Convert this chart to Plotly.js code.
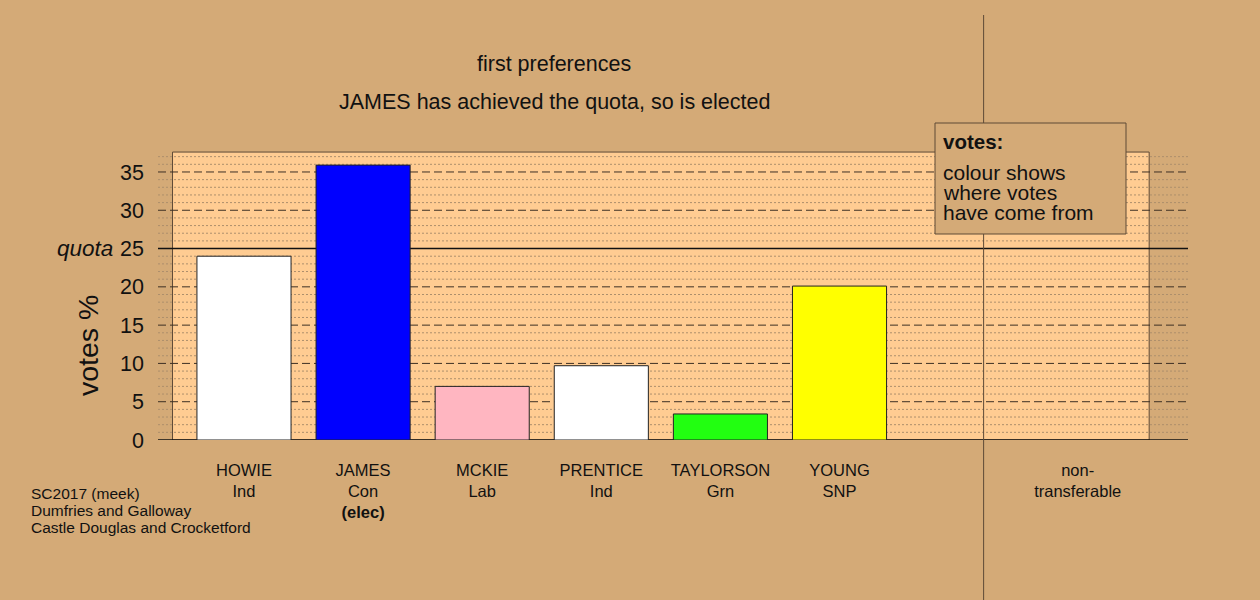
<!DOCTYPE html>
<html>
<head>
<meta charset="utf-8">
<script src="https://cdn.plot.ly/plotly-3.0.1.min.js"></script>
<style>
  html, body { margin: 0; padding: 0; background: #D4AA77; }
  #chart { width: 1260px; height: 600px; }
</style>
</head>
<body>
<div id="chart"></div>
<script>
// First-preference votes, STV count, Castle Douglas and Crocketford (SC2017)
const candidates = ['HOWIE', 'JAMES', 'MCKIE', 'PRENTICE', 'TAYLORSON', 'YOUNG'];
const parties = ['Ind', 'Con', 'Lab', 'Ind', 'Grn', 'SNP'];
const votesPct = [24.0, 35.9, 7.0, 9.7, 3.4, 20.1];
const barColours = ['#FFFFFF', '#0000FF', '#FFB6C1', '#FFFFFF', '#22FF11', '#FFFF00'];
const elected = [false, true, false, false, false, false];
const quota = 25;
const yTicks = [0, 5, 10, 15, 20, 25, 30, 35];
const nonTransferableLabel = 'non-<br>transferable';
const titleLines = ['first preferences', 'JAMES has achieved the quota, so is elected'];
const footnoteLines = ['SC2017 (meek)', 'Dumfries and Galloway', 'Castle Douglas and Crocketford'];
const keyTitle = 'votes:';
const keyLines = ['colour shows', 'where votes', 'have come from'];

const W = 1260, H = 600;
const M = { l: 158, r: 72, t: 148, b: 160 };
const plotW = W - M.l - M.r, plotH = H - M.t - M.b;
// pixel -> paper helpers for page furniture
const px = x => (x - M.l) / plotW;
const py = y => (H - M.b - y) / plotH;

const FONT = 'Liberation Sans, Arial, sans-serif';
const BG = '#D4AA77';
const PANEL = '#FFCC92';
const EDGE = '#5E4A36';

const xRange = [-0.722, 7.926];
const yRange = [0, 38.13];
const xPos = candidates.map((_, i) => i);
const ntPos = candidates.length + 1;     // non-transferable column
const dividerPos = candidates.length + 0.21;

const tickText = candidates.map((c, i) =>
  c + '<br>' + parties[i] + (elected[i] ? '<br><b>(elec)</b>' : ''));

const bars = {
  type: 'bar',
  x: xPos,
  y: votesPct,
  width: 0.79,
  marker: { color: barColours, line: { color: '#222222', width: 1 } },
  hoverinfo: 'x+y',
  showlegend: false
};

const shapes = [];
// background panel
shapes.push({
  type: 'rect', layer: 'below', xref: 'x', yref: 'y',
  x0: -0.6, x1: ntPos + 0.6, y0: 0, y1: 37.6,
  fillcolor: PANEL, line: { color: EDGE, width: 1 }
});
// grid: dotted every unit, dashed every 5
for (let v = 1; v <= 37; v++) {
  if (v === quota) continue;
  const major = v % 5 === 0;
  shapes.push({
    type: 'line', layer: 'below', xref: 'x', yref: 'y',
    x0: xRange[0], x1: xRange[1], y0: v, y1: v,
    line: major ? { color: '#3E3024', width: 1, dash: '8px,4px' }
                : { color: '#AD8F6C', width: 1, dash: '2px,2px' }
  });
}
// quota line and baseline
shapes.push({
  type: 'line', layer: 'below', xref: 'x', yref: 'y',
  x0: xRange[0], x1: xRange[1], y0: quota, y1: quota, line: { color: '#111111', width: 1.5 }
});
shapes.push({
  type: 'line', layer: 'below', xref: 'x', yref: 'y',
  x0: xRange[0], x1: xRange[1], y0: 0, y1: 0, line: { color: '#111111', width: 1.5 }
});
// divider between candidates and non-transferable column
shapes.push({
  type: 'line', layer: 'above', xref: 'x', yref: 'paper',
  x0: dividerPos, x1: dividerPos, y0: py(600), y1: py(15),
  line: { color: EDGE, width: 1 }
});
// key box
shapes.push({
  type: 'rect', layer: 'above', xref: 'paper', yref: 'paper',
  x0: px(935), x1: px(1126), y0: py(234), y1: py(123),
  fillcolor: BG, line: { color: EDGE, width: 1 }
});

const annotations = [];
titleLines.forEach((t, i) => annotations.push({
  text: t, xref: 'paper', yref: 'paper', x: px(554), y: py(i === 0 ? 64 : 102),
  xanchor: 'center', yanchor: 'middle', showarrow: false,
  font: { family: FONT, size: 21.5, color: '#111111' }
}));
annotations.push({
  text: '<i>quota</i>', xref: 'paper', yref: 'y', x: px(115), y: quota,
  xanchor: 'right', yanchor: 'middle', showarrow: false,
  font: { family: FONT, size: 22.5, color: '#111111' }
});
annotations.push({
  text: 'votes %', xref: 'paper', yref: 'paper', x: px(88), y: py(346),
  textangle: -90, xanchor: 'center', yanchor: 'middle', showarrow: false,
  font: { family: FONT, size: 28.5, color: '#111111' }
});
annotations.push({
  text: '<b>' + keyTitle + '</b>', xref: 'paper', yref: 'paper', x: px(941), y: py(142),
  xanchor: 'left', yanchor: 'middle', showarrow: false,
  font: { family: FONT, size: 20.5, color: '#111111' }
});
keyLines.forEach((t, i) => annotations.push({
  text: t, xref: 'paper', yref: 'paper', x: px(941), y: py(172 + 20 * i),
  xanchor: 'left', yanchor: 'middle', showarrow: false,
  font: { family: FONT, size: 21, color: '#111111' }
}));
footnoteLines.forEach((t, i) => annotations.push({
  text: t, xref: 'paper', yref: 'paper', x: px(29), y: py(493 + 17 * i),
  xanchor: 'left', yanchor: 'middle', showarrow: false,
  font: { family: FONT, size: 15.5, color: '#111111' }
}));

const layout = {
  width: W, height: H,
  margin: M,
  paper_bgcolor: BG,
  plot_bgcolor: BG,
  showlegend: false,
  bargap: 0,
  xaxis: {
    range: xRange,
    tickmode: 'array',
    tickvals: xPos.concat([ntPos]),
    ticktext: tickText.concat([nonTransferableLabel]),
    ticks: '', showgrid: false, zeroline: false, showline: false,
    ticklabelstandoff: 18,
    tickfont: { family: FONT, size: 16.5, color: '#111111' },
    fixedrange: true
  },
  yaxis: {
    range: yRange,
    tickmode: 'array',
    tickvals: yTicks,
    ticks: '', showgrid: false, zeroline: false, showline: false,
    ticklabelstandoff: 13,
    tickfont: { family: FONT, size: 21.5, color: '#111111' },
    fixedrange: true
  },
  shapes: shapes,
  annotations: annotations
};

Plotly.newPlot('chart', [bars], layout, { displayModeBar: false, staticPlot: true });
</script>
</body>
</html>
